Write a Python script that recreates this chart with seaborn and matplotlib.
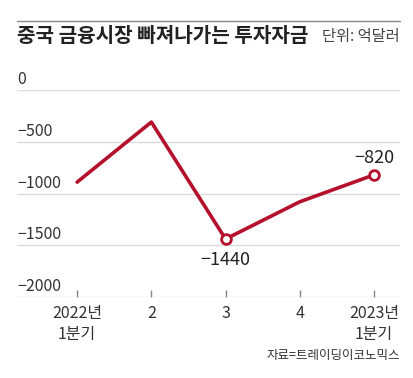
import matplotlib.pyplot as plt
import pandas as pd
import seaborn as sns
from matplotlib.lines import Line2D

# --- Data (억달러)
quarters = ["2022년\n1분기", "2", "3", "4", "2023년\n1분기"]
outflow = [-890, -310, -1440, -1080, -820]
y_ticks = [0, -500, -1000, -1500, -2000]
labeled_idx = [2, 4]

df = pd.DataFrame({"pos": range(len(quarters)), "value": outflow})

red = "#b5112d"
grid_col = "#dcdcdc"
text_col = "#333333"

sns.set_theme(style="white")
plt.rcParams["font.family"] = ["Noto Sans CJK KR", "DejaVu Sans"]
plt.rcParams["axes.unicode_minus"] = True

fig = plt.figure(figsize=(4.14, 3.78), dpi=100)
ax = fig.add_axes([17 / 414, 1 - 297 / 378, 383 / 414, 207 / 378])

sns.lineplot(data=df, x="pos", y="value", color=red, linewidth=2.6, ax=ax)
pts = df.iloc[labeled_idx]
ax.plot(pts["pos"], pts["value"], "o", ms=7, mfc="white", mec=red, mew=2, zorder=5)

ax.set_xlim(-0.81, 4.35)
ax.set_ylim(-2000, 0)

# gridlines + y labels sitting on top of them
for v in y_ticks:
    ax.axhline(v, color=grid_col, lw=1, zorder=0)
    ax.text(0, v + 100, f"{v}".replace("-", "\u2212"), transform=ax.get_yaxis_transform(),
            ha="left", va="center", fontsize=11.5, color=text_col)
ax.set_yticks([])

for s in ax.spines.values():
    s.set_visible(False)

ax.set_xticks(range(len(quarters)))
ax.set_xticklabels(quarters, fontsize=11.5, color=text_col, linespacing=1.3)
ax.tick_params(axis="x", bottom=True, direction="in", length=5, width=1,
               color="#888888", pad=6)
ax.set_xlabel("")
ax.set_ylabel("")

# value annotations
ax.text(2, -1440 - 120, "\u22121440", ha="center", va="top", fontsize=13,
        fontweight="medium", color="#222222")
ax.text(4, -820 + 80, "\u2212820", ha="center", va="bottom", fontsize=13,
        fontweight="medium", color="#222222")

# header
fig.add_artist(Line2D([17 / 414, 400 / 414], [1 - 21 / 378] * 2, color="#888888", lw=1))
fig.text(17 / 414, 1 - 36 / 378, "중국 금융시장 빠져나가는 투자자금", fontsize=14.5,
         fontweight="bold", color="#222222", ha="left", va="center")
fig.text(400 / 414, 1 - 37 / 378, "단위: 억달러", fontsize=11, color="#444444",
         ha="right", va="center")
fig.text(400 / 414, 1 - 355 / 378, "자료=트레이딩이코노믹스", fontsize=9,
         color="#333333", ha="right", va="center")

fig.savefig("out.png", dpi=100)
